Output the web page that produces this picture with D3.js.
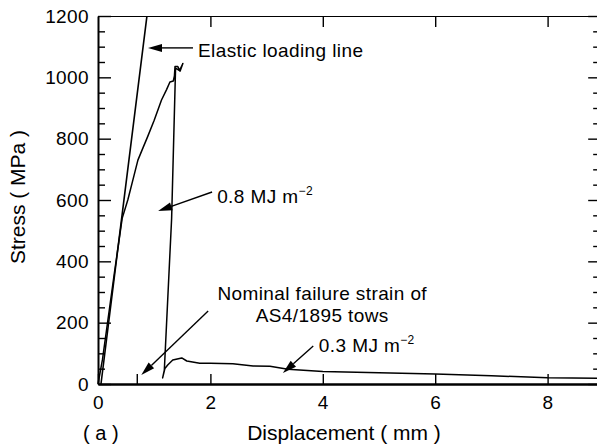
<!DOCTYPE html>
<html lang="en">
<head>
<meta charset="UTF-8" />
<title>Stress vs displacement</title>
<script src="https://d3js.org/d3.v7.min.js"></script>
<style>
  body { margin: 0; background: #fff; }
  svg { display: block; font-family: Arial, "Liberation Sans", sans-serif; }
  .tick text { font-size: 19px; letter-spacing: 0.4px; fill: #000; }
</style>
</head>
<body>
<div id="chart"></div>
<script>
// measured test curve: displacement (mm), stress (MPa)
const curveDisp = [0, 0.08, 0.17, 0.29, 0.43, 0.53, 0.62, 0.71, 0.80, 0.88, 1.0, 1.13, 1.22, 1.28, 1.34,
  1.36, 1.37, 1.42, 1.46, 1.51, 1.45, 1.38, 1.31, 1.18, 1.15, 1.19, 1.24, 1.33, 1.49, 1.58, 1.81,
  2.0, 2.4, 2.76, 3.06, 3.38, 4.0, 5.2, 6.0, 7.0, 8.0, 8.9];
const curveStress = [0, 80, 200, 360, 540, 600, 665, 730, 770, 805, 860, 926, 960, 985, 988,
  1005, 1035, 1035, 1020, 1045, 1022, 1030, 540, 45, 20, 50, 62, 78, 85, 75, 68,
  68, 66, 59, 58, 48, 41, 36, 33, 27, 20, 19];

// elastic loading line
const elasticDisp = [0.053, 0.871];
const elasticStress = [0, 1200];

const xTicks = [0, 2, 4, 6, 8];
const yTicks = [0, 200, 400, 600, 800, 1000, 1200];
const yMinor = d3.range(0, 1201, 50).filter(v => v % 200 !== 0);
const failureStrain = 0.69;

// annotations (data units): arrow tail, arrow tip
const noteTailX = [1.69, 2.03, 1.96, 3.83];
const noteTailY = [1096, 626, 238, 124];
const noteTipX = [0.89, 1.07, 0.77, 3.29];
const noteTipY = [1096, 564, 29, 36];

const W = 597, H = 448;
const margin = { top: 16, bottom: 64, left: 98 };

const svg = d3.select("#chart").append("svg")
  .attr("width", W).attr("height", H);

const x = d3.scaleLinear().domain([0, 8.9]).range([margin.left, margin.left + 8.9 * 56.2]);
const y = d3.scaleLinear().domain([0, 1200]).range([H - margin.bottom, margin.top]);
const x0 = x(0), x1 = x.range()[1], y0 = y(0), y1 = y(1200);

// axes with inward ticks
const gLeft = svg.append("g").attr("transform", `translate(${x0},0)`)
  .call(d3.axisLeft(y).tickValues(yTicks).tickFormat(d3.format("d"))
    .tickSize(-13).tickSizeOuter(0).tickPadding(9));
svg.append("g").attr("transform", `translate(${x0},0)`)
  .call(d3.axisLeft(y).tickValues(yMinor).tickSize(-7).tickFormat(""))
  .select(".domain").remove();
const gBottom = svg.append("g").attr("transform", `translate(0,${y0})`)
  .call(d3.axisBottom(x).tickValues(xTicks).tickFormat(d3.format("d"))
    .tickSize(-10).tickSizeOuter(0).tickPadding(11.5));
svg.append("g").attr("transform", `translate(0,${y0})`)
  .call(d3.axisBottom(x).tickValues([failureStrain]).tickSize(-10).tickFormat(""))
  .select(".domain").remove();
const gTop = svg.append("g").attr("transform", `translate(0,${y1})`)
  .call(d3.axisTop(x).tickValues(xTicks.slice(1)).tickSize(-11).tickSizeOuter(0).tickFormat(""));
svg.append("g").attr("transform", `translate(${x1},0)`)
  .call(d3.axisRight(y).tickValues(yTicks).tickSize(-10).tickSizeOuter(0).tickFormat(""));
svg.append("g").attr("transform", `translate(${x1},0)`)
  .call(d3.axisRight(y).tickValues(yMinor).tickSize(-5).tickFormat(""))
  .select(".domain").remove();

svg.selectAll(".tick line").attr("stroke", "#000").attr("stroke-width", 1.4);
svg.selectAll(".domain").attr("stroke", "#000").attr("stroke-width", 1.5);
gLeft.select(".domain").attr("stroke-width", 2);
gBottom.select(".domain").attr("stroke-width", 2.4);
gTop.select(".domain").attr("stroke-width", 1.2);

// curves
const line = d3.line().x(d => x(d[0])).y(d => y(d[1]));
svg.append("path")
  .datum(elasticDisp.map((d, i) => [d, elasticStress[i]]))
  .attr("d", line).attr("fill", "none").attr("stroke", "#000").attr("stroke-width", 1.6);
svg.append("path")
  .datum(curveDisp.map((d, i) => [d, curveStress[i]]))
  .attr("d", line).attr("fill", "none").attr("stroke", "#000")
  .attr("stroke-width", 1.5).attr("stroke-linejoin", "round");

// arrows
noteTailX.forEach((tx, i) => {
  const ax = x(tx), ay = y(noteTailY[i]), bx = x(noteTipX[i]), by = y(noteTipY[i]);
  const ang = Math.atan2(by - ay, bx - ax);
  const len = 14, half = 4;
  const cx = bx - len * Math.cos(ang), cy = by - len * Math.sin(ang);
  svg.append("line").attr("x1", ax).attr("y1", ay).attr("x2", cx).attr("y2", cy)
    .attr("stroke", "#000").attr("stroke-width", 1.4);
  svg.append("path")
    .attr("d", `M${bx},${by}L${cx - half * Math.sin(ang)},${cy + half * Math.cos(ang)}` +
      `L${cx + half * Math.sin(ang)},${cy - half * Math.cos(ang)}Z`)
    .attr("fill", "#000");
});

const note = (tx, ty, anchor) => svg.append("text")
  .attr("x", x(tx)).attr("y", y(ty)).attr("text-anchor", anchor || "start")
  .attr("font-size", 19).attr("letter-spacing", 0.4).attr("fill", "#000");

note(1.78, 1066).text("Elastic loading line");
const t8 = note(2.12, 590).text("0.8 MJ m");
t8.append("tspan").attr("dy", -8).attr("font-size", 12).text("\u22122");
note(3.99, 274, "middle").text("Nominal failure strain of");
note(3.99, 202, "middle").text("AS4/1895 tows");
const t3 = note(3.93, 104).text("0.3 MJ m");
t3.append("tspan").attr("dy", -8).attr("font-size", 12).text("\u22122");

// axis titles
svg.append("text").attr("x", 344).attr("y", 440).attr("text-anchor", "middle")
  .attr("font-size", 21).text("Displacement ( mm )");
svg.append("text").attr("x", 83).attr("y", 440)
  .attr("font-size", 20).text("( a )");
svg.append("text").attr("transform", "translate(25,197) rotate(-90)")
  .attr("text-anchor", "middle").attr("font-size", 21).text("Stress ( MPa )");
</script>
</body>
</html>
